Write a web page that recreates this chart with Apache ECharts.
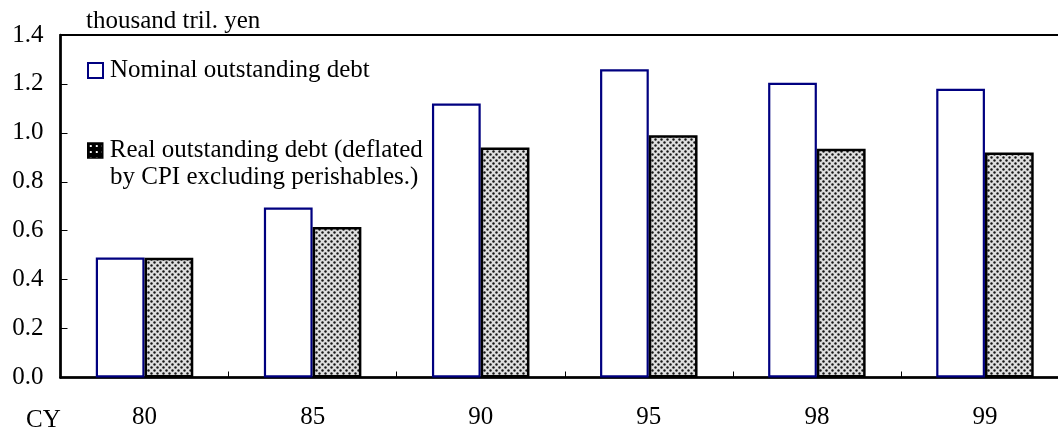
<!DOCTYPE html>
<html>
<head>
<meta charset="utf-8">
<script src="https://cdn.jsdelivr.net/npm/echarts@6/dist/echarts.min.js"></script>
<style>
html,body{margin:0;padding:0;background:#fff;}
#chart{width:1058px;height:427px;}
</style>
</head>
<body>
<div id="chart"></div>
<script>
const categories = ['80', '85', '90', '95', '98', '99'];
const nominalDebt = [0.49, 0.695, 1.12, 1.26, 1.205, 1.18];
const realDebt = [0.49, 0.615, 0.94, 0.99, 0.935, 0.92];
const yTicks = [0, 0.2, 0.4, 0.6, 0.8, 1.0, 1.2, 1.4];
const unitLabel = 'thousand tril. yen';
const xLabelPrefix = 'CY';
const nominalName = 'Nominal outstanding debt';
const realNameLines = ['Real outstanding debt (deflated', 'by CPI excluding perishables.)'];
const realName = realNameLines.join('\n');

const FONT = '"Liberation Serif", "Times New Roman", serif';

function dotPattern() {
  const c = document.createElement('canvas');
  c.width = 6; c.height = 6;
  const g = c.getContext('2d');
  g.fillStyle = '#dedede';
  g.fillRect(0, 0, 6, 6);
  g.fillStyle = '#151515';
  g.beginPath(); g.arc(1.5, 1.5, 1.2, 0, Math.PI * 2); g.fill();
  g.beginPath(); g.arc(4.5, 4.5, 1.2, 0, Math.PI * 2); g.fill();
  return c;
}
function iconPattern() {
  const c = document.createElement('canvas');
  c.width = 6; c.height = 6;
  const g = c.getContext('2d');
  g.fillStyle = '#000';
  g.fillRect(0, 0, 6, 6);
  g.fillStyle = '#fff';
  g.fillRect(2, 2, 2, 2);
  return c;
}

const chart = echarts.init(document.getElementById('chart'), null, {renderer: 'canvas'});
const option = {
  animation: false,
  backgroundColor: '#fff',
  textStyle: {fontFamily: FONT},
  grid: {
    left: 60.5, width: 1008.5, top: 35, height: 342.5,
    containLabel: false,
    outerBoundsMode: 'none',
    show: true, borderColor: '#000', borderWidth: 2, backgroundColor: 'transparent'
  },
  legend: [
    {
      data: [nominalName],
      left: 87, top: 58, padding: 0,
      itemWidth: 15, itemHeight: 15, itemGap: 0,
      icon: 'rect',
      selectedMode: false,
      textStyle: {fontFamily: FONT, fontSize: 25, color: '#000', padding: [0, 0, 0, 2]},
      itemStyle: {color: '#fff', borderColor: '#000080', borderWidth: 2}
    },
    {
      data: [realName],
      left: 87, top: 138, padding: 0,
      itemWidth: 15, itemHeight: 15, itemGap: 0,
      icon: 'rect',
      selectedMode: false,
      formatter: () => realNameLines[0],
      textStyle: {fontFamily: FONT, fontSize: 25, color: '#000', padding: [0, 0, 0, 2]},
      itemStyle: {color: {image: iconPattern(), repeat: 'repeat'}, borderColor: '#000', borderWidth: 1.5}
    }
  ],
  xAxis: {
    type: 'category',
    data: categories,
    axisLine: {show: true, lineStyle: {color: '#000', width: 2.5}},
    axisTick: {show: true, inside: true, length: 6, lineStyle: {color: '#000', width: 1}},
    axisLabel: {fontFamily: FONT, fontSize: 25, color: '#000', margin: 27},
    splitLine: {show: false}
  },
  yAxis: {
    type: 'value',
    min: 0, max: 1.4, interval: 0.2,
    axisLine: {show: true, lineStyle: {color: '#000', width: 2.5}},
    axisTick: {show: true, inside: true, length: 7, lineStyle: {color: '#000', width: 1}},
    axisLabel: {
      fontFamily: FONT, fontSize: 25, color: '#000', margin: 17,
      formatter: v => (yTicks.includes(Math.round(v * 10) / 10) ? v.toFixed(1) : '')
    },
    splitLine: {show: false}
  },
  series: [
    {
      name: nominalName,
      type: 'bar',
      data: nominalDebt,
      barGap: '0%',
      barCategoryGap: '42%',
      itemStyle: {color: '#fff', borderColor: '#000080', borderWidth: 2.2}
    },
    {
      name: realName,
      type: 'bar',
      data: realDebt,
      barGap: '0%',
      barCategoryGap: '42%',
      itemStyle: {color: {image: dotPattern(), repeat: 'repeat'}, borderColor: '#000', borderWidth: 2.5}
    }
  ],
  graphic: [
    {type: 'text', left: 86, top: 9, style: {text: unitLabel, font: '25px ' + FONT, fill: '#000'}},
    {type: 'text', left: 26, top: 408, style: {text: xLabelPrefix, font: '25px ' + FONT, fill: '#000'}},
    {type: 'text', left: 110, top: 165, style: {text: realNameLines[1], font: '25px ' + FONT, fill: '#000'}}
  ]
};
chart.setOption(option);
</script>
</body>
</html>
